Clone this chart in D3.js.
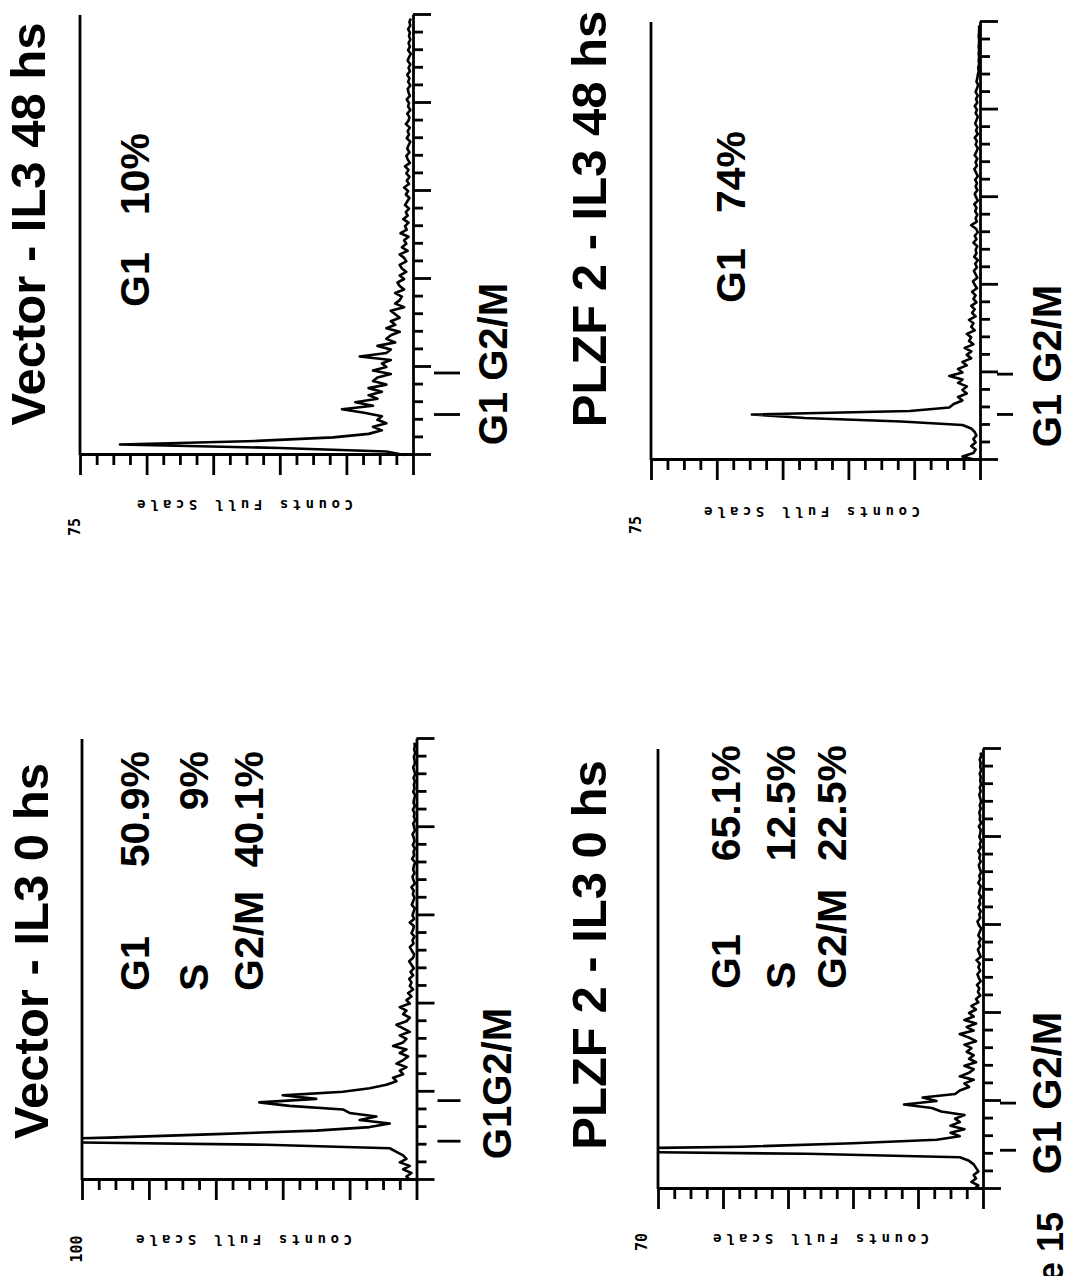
<!DOCTYPE html>
<html>

<head>
    <meta charset="utf-8">
    <title>DNA content histograms</title>
    <script src="https://d3js.org/d3.v7.min.js"></script>
</head>
<style>
    body {
        margin: 0;
        background: #fff;
    }

    svg {
        display: block;
    }

    .trace {
        fill: none;
        stroke: #000;
        stroke-width: 2.6;
        stroke-linejoin: round;
    }

    .axis path,
    .axis line,
    .frame,
    .mark {
        fill: none;
        stroke: #000;
        stroke-width: 2.8;
    }

    .big {
        font-family: "Liberation Sans", Arial, sans-serif;
        font-weight: bold;
        fill: #000;
    }

    .small {
        font-family: "DejaVu Sans Mono", monospace;
        font-weight: bold;
        fill: #000;
    }
</style>

<body>
    <svg id="chart"></svg>
    <script>
        // counts per channel (125 channels)
        var vectorIL3_0h = [
            2, 3, 1.5, 4, 2, 5, 3, 4, 6, 8,
            45, 135, 92, 60, 30, 14, 8, 17, 12, 20,
            22, 38, 47, 30, 40, 22, 14, 9, 6, 7,
            4, 5, 3, 6, 4, 2.5, 5, 3, 7, 4,
            3, 5, 2, 4, 6, 3, 2, 4, 3, 5,
            2, 3, 1.5, 2.5, 1, 2, 1.5, 2.2, 1, 1.8,
            0.8, 1.5, 2.2, 1, 0.7, 1.4, 2, 0.9, 1.2, 0.6,
            1.5, 1, 0.8, 2, 0.7, 1.2, 0.9, 0.5, 1.4, 1,
            0.6, 1.1, 0.8, 1.5, 0.5, 0.9, 1.2, 0.6, 1, 0.8,
            0.4, 1.3, 0.7, 0.9, 0.5, 1.1, 0.6, 0.8, 1.2, 0.5,
            0.7, 1, 0.4, 0.8, 0.6, 1.1, 0.5, 0.9, 0.7, 0.4,
            1, 0.6, 0.8, 0.5, 0.9, 0.4, 0.7, 1, 0.5, 0.6,
            0.8, 0.4, 0.7, 0.5, 0.6
        ];
        var plzf2IL3_0h = [
            2, 1, 2.5, 1.5, 2, 1, 1.5, 2, 3, 5,
            38, 110, 52, 28, 10, 5, 7, 4, 7, 5,
            6, 4, 9, 11, 17, 10, 13, 6, 5, 3,
            4, 2, 5, 3, 2, 4, 1.5, 3, 2, 3.5,
            2.5, 4, 1.5, 3, 5, 2, 3.5, 1.5, 4, 2,
            3, 1.5, 2.5, 1, 1.5, 0.6, 1.1, 0.8, 1.3, 0.5,
            0.9, 1.2, 0.6, 1, 0.7, 1.4, 0.5, 0.8, 1.1, 0.6,
            0.9, 0.5, 1, 0.7, 0.4, 0.9, 1.2, 0.6, 0.8, 0.5,
            1, 0.6, 0.8, 0.4, 0.9, 0.7, 0.5, 1, 0.6, 0.8,
            0.4, 0.7, 0.9, 0.5, 0.8, 0.6, 1, 0.5, 0.7, 0.4,
            0.8, 0.6, 0.5, 0.9, 0.4, 0.7, 0.6, 0.8, 0.5, 0.7,
            0.4, 0.6, 0.8, 0.5, 0.7, 0.4, 0.6, 0.5, 0.7, 0.4,
            0.6, 0.5, 0.7, 0.4, 0.5
        ];
        var vectorIL3_48h = [
            2, 6, 30, 66, 35, 18, 10, 7, 9, 6,
            8, 7, 11, 16, 9, 13, 8, 10, 7, 10,
            6, 9, 8, 5, 9, 6, 7, 5, 12, 6,
            5, 8, 4, 6, 5, 3, 6, 4, 5, 3,
            4, 5, 2, 4, 3, 2.5, 4, 2, 3, 3.5,
            2, 3, 1.5, 2.5, 3, 1.5, 2, 3, 1.2, 2.5,
            1.5, 2, 1, 2.8, 1.4, 1.8, 1, 2.2, 1.2, 1.6,
            0.9, 1.8, 1.3, 0.8, 1.6, 1.1, 2, 0.9, 1.4, 0.8,
            1.5, 1, 1.8, 0.7, 1.2, 1.5, 0.8, 1.3, 1, 0.6,
            1.4, 0.9, 1.2, 0.7, 1.6, 1, 0.8, 1.3, 0.6, 1.1,
            0.9, 1.4, 0.7, 1, 1.2, 0.6, 1.1, 0.8, 1.3, 0.7,
            1, 0.6, 1.2, 0.9, 0.5, 1.1, 0.7, 1, 0.6, 0.9,
            0.7, 1.1, 0.6, 0.8, 0.5
        ];
        var plzf2IL3_48h = [
            1, 4, 1.5, 1, 2, 1, 1.5, 0.8, 1.2, 2,
            4, 18, 40, 52, 16, 7, 6, 4, 5, 3,
            4, 3, 5, 4, 7, 4, 5, 3, 4, 2,
            3, 2, 3.5, 1.5, 2.5, 2, 3, 1.2, 2, 1.5,
            2.5, 1, 1.8, 1.2, 2, 0.8, 1.5, 1, 1.8, 0.7,
            1.2, 1.6, 0.6, 1, 1.4, 0.7, 1.1, 0.5, 1.3, 0.8,
            1, 0.6, 1.5, 0.8, 1.2, 0.5, 0.9, 2, 0.7, 1,
            0.6, 1.1, 0.8, 1.3, 0.5, 0.9, 1.2, 0.6, 1, 0.7,
            1.1, 0.5, 0.9, 1.3, 0.7, 1, 0.6, 1.2, 0.8, 0.5,
            1, 0.7, 1.2, 0.5, 0.9, 0.6, 1.1, 0.8, 0.5, 1,
            0.7, 1.2, 0.6, 0.9, 0.5, 1, 0.7, 0.4, 0.8, 0.6,
            0.5, 0.3, 0.4, 0.2, 0.3, 0.2, 0.3, 0.2, 0.3, 0.2,
            0.2, 0.3, 0.2, 0.2, 0.2
        ];

        var titles = ["Vector - IL3 0 hs", "PLZF 2 - IL3 0 hs", "Vector - IL3 48 hs", "PLZF 2 - IL3 48 hs"];
        var fullScales = [100, 70, 75, 75];
        var fullScaleLabels = ["100", "70", "75", "75"];
        var stats = [
            [["G1", "50.9%"], ["S", "9%"], ["G2/M", "40.1%"]],
            [["G1", "65.1%"], ["S", "12.5%"], ["G2/M", "22.5%"]],
            [["G1", "10%"]],
            [["G1", "74%"]]
        ];
        // G1 and G2/M marker channels
        var markers = [[11, 22.5], [11, 24.4], [11.5, 23.3], [13, 24.5]];
        var markerLabels = ["G1G2/M", "G1 G2/M", "G1 G2/M", "G1 G2/M"];
        var axisLabel = "Counts Full Scale";

        var channelMax = 125;

        // page layout of each panel (the figure is turned a quarter turn)
        var layout = [
            { frameX: 82, axisX: 416.5, originY: 1180, len: 441, titleX: 48, titleY: 951,
              statX: [149, 208, 263], labelY: 991, valueY: 751, mark: [21, 44],
              markLabelX: 511, markLabelTop: 1008,
              scaleX: 82, scaleY: 1249, countsX: 244, countsY: 1235 },
            { frameX: 658, axisX: 983, originY: 1189, len: 440, titleX: 606, titleY: 955,
              statX: [740, 795, 846], labelY: 989, valueY: 745, mark: [17, 33],
              markLabelX: 1061, markLabelTop: 1012,
              scaleX: 647, scaleY: 1242, countsX: 821, countsY: 1234 },
            { frameX: 80, axisX: 413, originY: 455, len: 440, titleX: 45, titleY: 224,
              statX: [149], labelY: 307, valueY: 133, mark: [21, 47],
              markLabelX: 507, markLabelTop: 283,
              scaleX: 80, scaleY: 527, countsX: 245, countsY: 500 },
            { frameX: 651, axisX: 980, originY: 460, len: 438, titleX: 606, titleY: 219,
              statX: [745], labelY: 303, valueY: 131, mark: [17, 33],
              markLabelX: 1061, markLabelTop: 285,
              scaleX: 641, scaleY: 525, countsX: 812, countsY: 507 }
        ];

        var series = [vectorIL3_0h, plzf2IL3_0h, vectorIL3_48h, plzf2IL3_48h];

        var svg = d3.select("#chart")
            .attr("width", 1070)
            .attr("height", 1276);

        // text turned to read bottom to top
        function upText(x, y, str, size, anchor, cls) {
            return svg.append("text")
                .attr("class", cls)
                .attr("transform", "translate(" + x + "," + y + ") rotate(-90)")
                .attr("text-anchor", anchor)
                .style("font-size", size + "px")
                .text(str);
        }

        series.forEach(function(counts, i) {
            var L = layout[i];
            var H = L.axisX - L.frameX,
                W = L.len;

            // the plot is drawn upright, then turned
            var g = svg.append("g")
                .attr("transform", "translate(" + L.axisX + "," + L.originY + ") rotate(-90) translate(0," + (-H) + ")");

            var x = d3.scaleLinear().domain([0, channelMax]).range([0, W]);
            var y = d3.scaleLinear().domain([0, fullScales[i]]).range([H, 0]);

            g.append("clipPath")
                .attr("id", "clip" + i)
                .append("rect")
                .attr("x", -2)
                .attr("y", 0)
                .attr("width", W + 4)
                .attr("height", H + 2);

            // channel axis
            var gx = g.append("g")
                .attr("class", "axis")
                .attr("transform", "translate(0," + H + ")")
                .call(d3.axisBottom(x)
                    .tickValues(d3.range(0, channelMax + 1, 5))
                    .tickSize(10)
                    .tickSizeOuter(0)
                    .tickFormat(""));
            gx.selectAll(".tick line")
                .filter(function(d) { return d % 25 === 0; })
                .attr("y2", 18);

            // counts axis
            var yTicks = d3.range(0, 21).map(function(k) { return k * fullScales[i] / 20; });
            var gy = g.append("g")
                .attr("class", "axis")
                .call(d3.axisLeft(y)
                    .tickValues(yTicks)
                    .tickSize(10)
                    .tickSizeOuter(0)
                    .tickFormat(""));
            gy.selectAll(".tick line")
                .filter(function(d, k) { return k % 4 === 0; })
                .attr("x2", -20);

            // top frame at full scale
            g.append("line")
                .attr("class", "frame")
                .attr("x1", x(0))
                .attr("x2", x(channelMax))
                .attr("y1", y(fullScales[i]))
                .attr("y2", y(fullScales[i]));

            // histogram trace
            g.append("path")
                .datum(counts)
                .attr("class", "trace")
                .attr("clip-path", "url(#clip" + i + ")")
                .attr("d", d3.line()
                    .x(function(d, k) { return x(k); })
                    .y(function(d) { return y(d); }));

            // G1 and G2/M markers
            g.selectAll(".mark" + i)
                .data(markers[i])
                .enter()
                .append("line")
                .attr("class", "mark")
                .attr("x1", function(d) { return x(d); })
                .attr("x2", function(d) { return x(d); })
                .attr("y1", H + L.mark[0])
                .attr("y2", H + L.mark[1]);

            // texts
            upText(L.titleX, L.titleY, titles[i], 49, "middle", "big");
            stats[i].forEach(function(row, r) {
                upText(L.statX[r], L.labelY, row[0], 41, "start", "big");
                upText(L.statX[r], L.valueY, row[1], 41, "end", "big");
            });
            upText(L.markLabelX, L.markLabelTop, markerLabels[i], 40, "end", "big");
            upText(L.scaleX, L.scaleY, fullScaleLabels[i], 15, "middle", "small");

            svg.append("text")
                .attr("class", "small")
                .attr("transform", "translate(" + L.countsX + "," + L.countsY + ") rotate(180)")
                .attr("text-anchor", "middle")
                .attr("textLength", 216)
                .attr("lengthAdjust", "spacing")
                .style("font-size", "14px")
                .text(axisLabel);
        });

        // figure number, cut by the page edge as in the scan
        upText(1063, 1212, "Figure 15", 36, "end", "big");
    </script>

</body>

</html>
